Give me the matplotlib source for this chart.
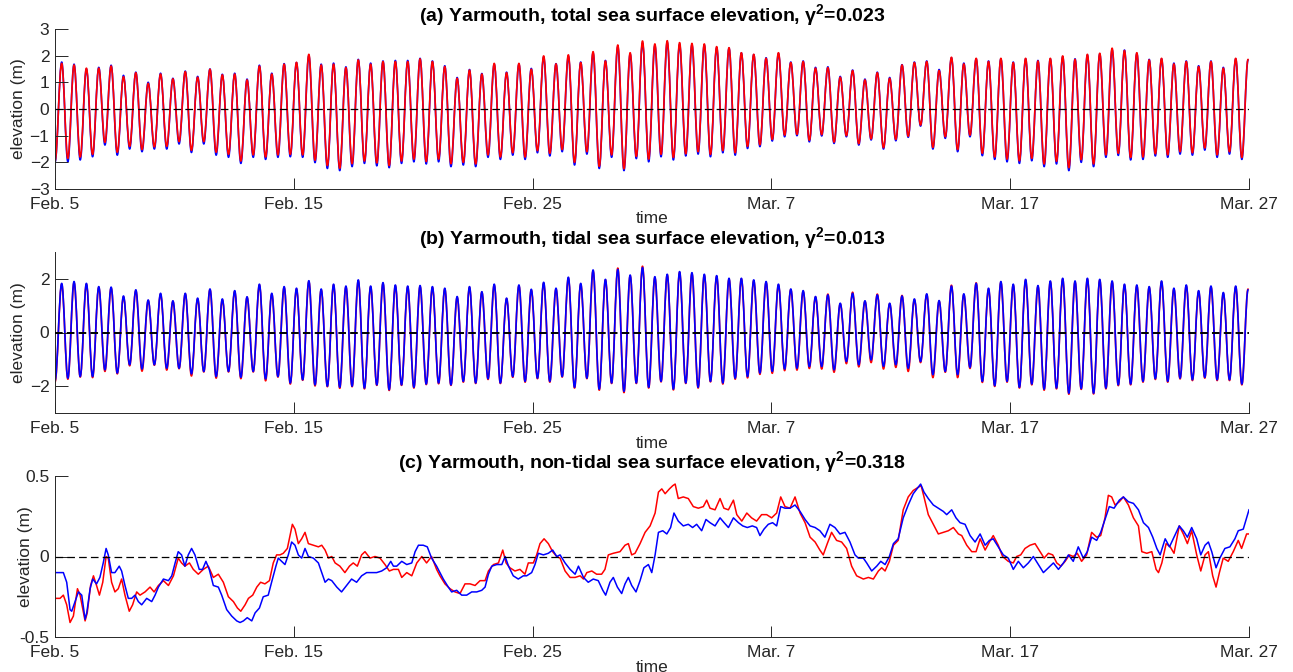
import matplotlib
matplotlib.use("Agg")
import matplotlib.pyplot as plt
from matplotlib.path import Path
from matplotlib.patches import PathPatch

plt.rcParams['font.family'] = ['Liberation Sans', 'DejaVu Sans']
plt.rcParams['mathtext.fontset'] = 'custom'
plt.rcParams['mathtext.rm'] = 'Liberation Sans'
plt.rcParams['mathtext.bf'] = 'Liberation Sans:bold'
plt.rcParams['lines.scale_dashes'] = False

# ---------------- data ----------------
date_ticks = [0, 10, 20, 30, 40, 50]
date_labels = ['Feb. 5', 'Feb. 15', 'Feb. 25', 'Mar. 7', 'Mar. 17', 'Mar. 27']

titles = [r'(a) Yarmouth, total sea surface elevation, γ$^{\mathbf{2}}$=0.023',
          r'(b) Yarmouth, tidal sea surface elevation, γ$^{\mathbf{2}}$=0.013',
          r'(c) Yarmouth, non-tidal sea surface elevation, γ$^{\mathbf{2}}$=0.318']

# tidal sampling of high / low waters (days after Feb. 5)
first_high_day = 0.28
half_tide_days = 0.25875

# (a) total elevation: value at Feb. 5, then successive high and low waters
total_start_blue = -2.00
total_start_red = -1.95
total_high_blue = [1.76, 1.68, 1.50, 1.56, 1.64, 1.26, 1.38, 1.00, 1.34, 1.15, 1.42, 1.22, 1.50, 1.30, 1.34, 1.12,
                   1.64, 1.34, 1.70, 1.74, 2.00, 1.68, 1.72, 1.58, 1.86, 1.72, 1.80, 1.82, 1.82, 1.90, 1.80,
                   1.62, 1.18, 1.48, 1.33, 1.68, 1.38, 1.68, 1.52, 1.95, 1.70, 1.98, 1.76, 2.10, 1.82, 2.34, 2.06,
                   2.48, 2.38, 2.50, 2.42, 2.40, 2.40, 2.30, 2.28, 2.10, 2.04, 1.92, 2.08, 1.76, 1.80, 1.56, 1.58,
                   1.22, 1.46,
                   1.12, 1.38, 1.18, 1.66, 1.76, 1.80, 1.48, 1.92, 1.72, 1.88, 1.80, 1.88, 1.76, 1.88, 1.82, 1.88,
                   1.96, 1.88, 2.02, 2.06, 2.22, 2.21, 2.08, 1.86, 1.88, 1.72, 1.80, 1.62, 1.80, 1.56, 1.88, 1.84]
total_low_blue = [-1.98, -1.91, -1.79, -1.35, -1.73, -1.50, -1.60, -1.50, -1.50, -1.31, -1.63, -1.31, -1.73, -1.81,
                  -2.04, -1.81, -1.89, -1.81, -1.79, -1.81, -2.01, -2.23, -2.31, -2.16, -2.04, -2.13, -2.20, -2.04,
                  -1.98, -2.06, -1.98,
                  -2.16, -2.10, -2.16, -1.81, -1.89, -1.73, -1.89, -1.64, -1.76, -1.60, -2.10, -1.69, -2.23, -1.81,
                  -2.31, -1.86, -1.98, -1.79, -1.91, -1.76, -1.69, -1.79, -1.64, -1.73, -1.48, -1.41, -1.20, -1.04,
                  -1.00, -1.23, -1.01, -1.29, -1.04, -1.35,
                  -1.16, -1.50, -1.19, -1.06, -0.64, -1.50, -1.10, -1.60, -1.04, -1.75, -1.89, -1.98, -2.04, -1.94,
                  -2.16, -2.06, -2.31, -2.00, -2.16, -1.81, -1.74, -1.91, -1.89, -1.76, -1.81, -1.69, -1.73, -1.54,
                  -1.81, -1.69, -1.89]
total_high_red = [1.71, 1.65, 1.53, 1.53, 1.61, 1.21, 1.36, 0.96, 1.31, 1.13, 1.40, 1.19, 1.49, 1.28, 1.31, 1.09,
                  1.61, 1.31, 1.68, 1.75, 2.05, 1.65, 1.68, 1.55, 1.84, 1.68, 1.78, 1.78, 1.78, 1.88, 1.78,
                  1.59, 1.15, 1.46, 1.31, 1.71, 1.36, 1.71, 1.49, 1.99, 1.69, 2.03, 1.74, 2.15, 1.80, 2.40, 2.11,
                  2.55, 2.44, 2.56, 2.49, 2.46, 2.44, 2.34, 2.30, 2.11, 2.05, 1.90, 2.11, 1.74, 1.78, 1.53, 1.55,
                  1.19, 1.44,
                  1.09, 1.36, 1.15, 1.65, 1.74, 1.78, 1.44, 1.94, 1.69, 1.90, 1.78, 1.90, 1.74, 1.90, 1.80, 1.90,
                  1.99, 1.86, 2.05, 2.09, 2.28, 2.19, 2.11, 1.84, 1.90, 1.69, 1.78, 1.59, 1.78, 1.53, 1.90, 1.86]
total_low_red = [-1.85, -1.80, -1.70, -1.25, -1.62, -1.40, -1.52, -1.42, -1.40, -1.22, -1.55, -1.22, -1.62, -1.70,
                 -1.95, -1.72, -1.80, -1.72, -1.70, -1.72, -1.92, -2.12, -2.22, -2.05, -1.95, -2.02, -2.12, -1.95,
                 -1.88, -1.97, -1.88,
                 -2.05, -2.00, -2.06, -1.72, -1.80, -1.64, -1.80, -1.56, -1.66, -1.52, -2.00, -1.60, -2.15, -1.72,
                 -2.24, -1.78, -1.88, -1.70, -1.82, -1.68, -1.60, -1.70, -1.56, -1.64, -1.40, -1.34, -1.14, -0.98,
                 -0.95, -1.17, -0.96, -1.24, -1.00, -1.30,
                 -1.12, -1.45, -1.14, -1.02, -0.60, -1.44, -1.04, -1.52, -0.98, -1.66, -1.80, -1.88, -1.94, -1.85,
                 -2.06, -1.96, -2.20, -1.90, -2.06, -1.72, -1.66, -1.82, -1.80, -1.68, -1.72, -1.60, -1.64, -1.46,
                 -1.72, -1.60, -1.82]

# (b) tidal elevation
tidal_start_blue = -1.80
tidal_start_red = -1.85
tidal_high_blue = [1.83, 1.90, 1.83, 1.71, 1.69, 1.36, 1.59, 1.21, 1.46, 1.18, 1.46, 1.28, 1.62, 1.25, 1.56, 1.33,
                   1.80, 1.46, 1.71, 1.65, 1.93, 1.62, 1.80, 1.73, 1.96, 1.73, 1.86, 1.77, 1.73, 1.75, 1.71,
                   1.65, 1.34, 1.71, 1.52, 1.80, 1.28, 1.77, 1.61, 1.87, 1.65, 2.06, 1.83, 2.33, 1.98, 2.35, 2.14,
                   2.42, 2.08, 2.17, 2.27, 2.23, 2.17, 2.12, 2.02, 2.02, 1.96, 1.90, 1.80, 1.62, 1.56, 1.34, 1.40,
                   1.09, 1.46,
                   1.18, 1.40, 1.09, 1.36, 1.25, 1.44, 1.19, 1.73, 1.44, 1.83, 1.65, 1.90, 1.80, 1.98, 1.75, 1.92,
                   2.02, 1.92, 2.02, 1.98, 1.92, 1.80, 1.77, 1.71, 1.92, 1.65, 1.77, 1.56, 1.73, 1.49, 1.73, 1.59]
tidal_low_blue = [-1.70, -1.64, -1.64, -1.39, -1.51, -1.20, -1.36, -1.20, -1.33, -1.33, -1.54, -1.45, -1.64, -1.45,
                  -1.67, -1.45, -1.73, -1.64, -1.88, -1.76, -1.95, -2.00, -2.04, -2.00, -2.07, -1.95, -2.13, -1.95,
                  -2.04, -1.92, -1.88,
                  -1.95, -1.82, -1.88, -1.72, -1.88, -1.64, -1.82, -1.70, -1.82, -1.64, -2.04, -1.70, -2.11, -1.88,
                  -2.19, -1.88, -2.04, -1.82, -2.11, -1.88, -2.04, -1.82, -1.88, -1.70, -1.64, -1.51, -1.45, -1.36,
                  -1.33, -1.27, -1.27, -1.39, -1.08, -1.20,
                  -1.02, -1.26, -1.20, -1.33, -1.08, -1.57, -1.45, -1.57, -1.30, -1.82, -1.98, -1.82, -2.04, -1.92,
                  -2.11, -2.07, -2.26, -2.09, -2.26, -2.07, -1.95, -1.92, -1.82, -1.72, -1.82, -1.70, -1.76, -1.67,
                  -1.76, -1.76, -1.92]
tidal_high_red = [1.80, 1.86, 1.80, 1.68, 1.66, 1.33, 1.56, 1.19, 1.43, 1.16, 1.44, 1.25, 1.60, 1.22, 1.53, 1.31,
                  1.77, 1.43, 1.68, 1.62, 1.90, 1.59, 1.77, 1.70, 1.93, 1.70, 1.83, 1.74, 1.70, 1.72, 1.68,
                  1.62, 1.31, 1.68, 1.50, 1.77, 1.26, 1.74, 1.58, 1.84, 1.62, 2.03, 1.80, 2.30, 1.96, 2.40, 2.12,
                  2.47, 2.05, 2.15, 2.24, 2.20, 2.14, 2.09, 1.99, 2.00, 1.93, 1.87, 1.77, 1.60, 1.53, 1.32, 1.43,
                  1.07, 1.50,
                  1.16, 1.43, 1.07, 1.38, 1.22, 1.41, 1.17, 1.76, 1.41, 1.85, 1.62, 1.87, 1.77, 1.95, 1.72, 1.89,
                  1.99, 1.89, 1.99, 1.95, 1.89, 1.77, 1.74, 1.68, 1.89, 1.62, 1.74, 1.53, 1.70, 1.46, 1.70, 1.62]
tidal_low_red = [-1.74, -1.66, -1.68, -1.45, -1.54, -1.24, -1.44, -1.22, -1.40, -1.35, -1.62, -1.47, -1.70, -1.47,
                 -1.72, -1.47, -1.80, -1.66, -1.92, -1.78, -1.99, -2.02, -2.08, -2.02, -2.10, -1.97, -2.16, -1.97,
                 -2.07, -1.94, -1.91,
                 -1.97, -1.85, -1.90, -1.75, -1.90, -1.67, -1.85, -1.72, -1.85, -1.66, -2.07, -1.72, -2.15, -1.90,
                 -2.24, -1.90, -2.07, -1.84, -2.14, -1.90, -2.07, -1.84, -1.92, -1.74, -1.69, -1.56, -1.52, -1.42,
                 -1.40, -1.34, -1.36, -1.48, -1.16, -1.28,
                 -1.12, -1.36, -1.30, -1.45, -1.12, -1.68, -1.48, -1.68, -1.34, -1.86, -2.01, -1.85, -2.07, -1.95,
                 -2.15, -2.10, -2.30, -2.12, -2.29, -2.10, -1.98, -1.95, -1.85, -1.75, -1.85, -1.73, -1.79, -1.70,
                 -1.79, -1.79, -1.95]

# (c) non-tidal elevation: (day after Feb. 5, metres)
nontidal_blue = [
    (0.00, -0.10), (0.35, -0.10), (0.49, -0.16), (0.63, -0.33), (0.70, -0.34), (0.84, -0.28), (0.98, -0.22),
    (1.12, -0.24), (1.26, -0.39), (1.33, -0.35), (1.47, -0.20), (1.58, -0.14), (1.74, -0.17), (1.88, -0.13),
    (2.02, -0.04), (2.14, 0.05), (2.23, 0.01), (2.37, -0.10), (2.51, -0.10), (2.69, -0.06), (2.79, -0.09),
    (2.93, -0.18), (3.07, -0.26), (3.21, -0.26), (3.35, -0.24), (3.49, -0.28), (3.63, -0.30), (3.84, -0.26),
    (4.05, -0.28), (4.19, -0.24), (4.33, -0.19), (4.54, -0.14), (4.75, -0.15), (4.89, -0.12), (5.03, -0.04),
    (5.16, 0.03), (5.30, 0.01), (5.44, -0.06), (5.58, 0.01), (5.72, 0.05), (5.86, 0.01), (6.04, -0.08),
    (6.18, -0.08), (6.32, -0.03), (6.46, -0.08), (6.63, -0.18), (6.84, -0.19), (6.98, -0.24), (7.19, -0.33),
    (7.40, -0.37), (7.61, -0.40), (7.75, -0.41), (7.89, -0.40), (8.05, -0.38), (8.24, -0.40), (8.38, -0.35),
    (8.56, -0.32), (8.72, -0.25), (8.93, -0.24), (9.07, -0.16), (9.25, -0.06), (9.35, -0.01), (9.49, -0.03),
    (9.63, -0.05), (9.77, 0.01), (9.91, 0.09), (10.05, 0.07), (10.19, 0.01), (10.33, -0.01), (10.47, 0.05),
    (10.61, 0.00), (10.82, -0.01), (11.03, -0.04), (11.17, -0.10), (11.31, -0.16), (11.45, -0.14),
    (11.59, -0.15), (11.80, -0.19), (12.00, -0.22), (12.21, -0.18), (12.42, -0.14), (12.63, -0.16),
    (12.84, -0.12), (13.05, -0.10), (13.26, -0.10), (13.47, -0.10), (13.68, -0.09), (13.89, -0.07),
    (14.06, -0.03), (14.17, -0.06), (14.31, -0.06), (14.52, -0.03), (14.73, -0.05), (14.94, -0.04),
    (15.08, 0.03), (15.22, 0.07), (15.42, 0.07), (15.59, 0.06), (15.77, -0.01), (15.98, -0.06),
    (16.26, -0.14), (16.47, -0.19), (16.61, -0.22), (16.82, -0.21), (17.03, -0.24), (17.24, -0.24),
    (17.45, -0.22), (17.66, -0.22), (17.87, -0.21), (18.01, -0.19), (18.15, -0.11), (18.29, -0.06),
    (18.50, -0.05), (18.71, -0.05), (18.85, 0.00), (18.99, -0.06), (19.19, -0.12), (19.40, -0.14),
    (19.61, -0.12), (19.75, -0.12), (19.96, -0.10), (20.10, -0.05), (20.24, 0.02), (20.45, 0.01),
    (20.66, 0.02), (20.84, 0.04), (21.01, 0.00), (21.15, 0.01), (21.36, -0.04), (21.57, -0.08),
    (21.78, -0.11), (21.92, -0.06), (22.13, -0.13), (22.33, -0.16), (22.54, -0.14), (22.75, -0.15),
    (22.94, -0.21), (23.06, -0.24), (23.24, -0.16), (23.38, -0.13), (23.55, -0.19), (23.73, -0.23),
    (23.87, -0.17), (24.01, -0.13), (24.15, -0.18), (24.33, -0.22), (24.50, -0.15), (24.66, -0.07),
    (24.85, -0.05), (24.99, -0.10), (25.13, 0.01), (25.27, 0.15), (25.45, 0.16), (25.62, 0.14),
    (25.78, 0.18), (25.92, 0.27), (26.10, 0.22), (26.31, 0.19), (26.52, 0.20), (26.70, 0.18),
    (26.87, 0.20), (27.08, 0.16), (27.26, 0.23), (27.43, 0.21), (27.64, 0.19), (27.85, 0.24),
    (28.02, 0.21), (28.20, 0.18), (28.41, 0.24), (28.62, 0.21), (28.80, 0.19), (28.99, 0.18),
    (29.20, 0.19), (29.38, 0.18), (29.52, 0.13), (29.69, 0.17), (29.87, 0.20), (30.05, 0.21),
    (30.22, 0.19), (30.39, 0.31), (30.57, 0.30), (30.78, 0.30), (30.99, 0.32), (31.20, 0.28),
    (31.41, 0.23), (31.62, 0.19), (31.83, 0.18), (32.03, 0.16), (32.24, 0.12), (32.45, 0.20),
    (32.66, 0.18), (32.87, 0.14), (33.08, 0.15), (33.29, 0.09), (33.50, 0.01), (33.64, -0.01),
    (33.85, -0.01), (33.99, -0.04), (34.20, -0.09), (34.41, -0.06), (34.58, -0.03), (34.76, -0.05),
    (34.94, 0.00), (35.11, 0.08), (35.31, 0.11), (35.52, 0.24), (35.73, 0.32), (35.94, 0.39),
    (36.15, 0.43), (36.25, 0.45), (36.39, 0.40), (36.57, 0.36), (36.78, 0.32), (36.99, 0.30),
    (37.20, 0.28), (37.34, 0.26), (37.55, 0.29), (37.73, 0.24), (37.90, 0.21), (38.11, 0.20),
    (38.32, 0.13), (38.53, 0.09), (38.74, 0.14), (38.95, 0.07), (39.13, 0.10), (39.29, 0.11),
    (39.50, 0.06), (39.71, 0.01), (39.92, -0.01), (40.13, -0.08), (40.34, -0.03), (40.55, -0.07),
    (40.76, -0.04), (40.97, 0.00), (41.18, -0.05), (41.39, -0.10), (41.60, -0.07), (41.81, -0.04),
    (42.02, -0.08), (42.23, -0.04), (42.44, 0.01), (42.64, -0.03), (42.85, 0.06), (43.06, -0.01),
    (43.23, 0.03), (43.41, 0.12), (43.62, 0.10), (43.79, 0.15), (43.97, 0.23), (44.15, 0.31),
    (44.35, 0.30), (44.57, 0.35), (44.74, 0.37), (44.95, 0.34), (45.16, 0.33), (45.37, 0.29),
    (45.58, 0.21), (45.79, 0.18), (45.97, 0.12), (46.14, 0.05), (46.28, 0.01), (46.49, 0.11),
    (46.67, 0.06), (46.86, 0.12), (47.08, 0.19), (47.25, 0.16), (47.42, 0.12), (47.60, 0.18),
    (47.81, 0.11), (47.98, 0.01), (48.16, 0.07), (48.30, 0.09), (48.44, 0.03), (48.62, -0.07),
    (48.78, -0.01), (48.99, 0.05), (49.20, 0.06), (49.41, 0.11), (49.55, 0.16), (49.76, 0.17),
    (49.90, 0.24), (50.00, 0.29)]

nontidal_red = [
    (0.00, -0.26), (0.21, -0.26), (0.35, -0.24), (0.49, -0.30), (0.63, -0.41), (0.77, -0.37), (0.94, -0.20),
    (1.05, -0.24), (1.26, -0.40), (1.35, -0.35), (1.49, -0.18), (1.61, -0.12), (1.74, -0.18), (1.86, -0.24),
    (2.00, -0.16), (2.14, 0.00), (2.23, -0.01), (2.37, -0.16), (2.51, -0.22), (2.65, -0.20), (2.79, -0.14),
    (2.93, -0.24), (3.11, -0.34), (3.25, -0.30), (3.42, -0.22), (3.56, -0.24), (3.77, -0.22), (3.98, -0.19),
    (4.15, -0.22), (4.33, -0.18), (4.54, -0.15), (4.75, -0.18), (4.96, -0.12), (5.16, -0.01), (5.30, -0.04),
    (5.44, -0.06), (5.63, -0.04), (5.79, -0.08), (6.00, -0.11), (6.21, -0.08), (6.42, -0.06), (6.63, -0.13),
    (6.84, -0.11), (7.05, -0.16), (7.26, -0.25), (7.47, -0.28), (7.64, -0.32), (7.78, -0.34), (7.96, -0.30),
    (8.10, -0.26), (8.28, -0.24), (8.45, -0.19), (8.61, -0.16), (8.79, -0.17), (8.98, -0.15), (9.14, -0.04),
    (9.28, 0.01), (9.42, 0.01), (9.56, 0.02), (9.73, 0.05), (9.84, 0.13), (9.94, 0.20), (10.05, 0.17),
    (10.19, 0.08), (10.33, 0.11), (10.47, 0.15), (10.61, 0.08), (10.82, 0.07), (11.03, 0.06), (11.17, 0.07),
    (11.31, 0.04), (11.45, -0.01), (11.59, 0.00), (11.73, -0.04), (11.93, -0.06), (12.14, -0.10),
    (12.33, -0.06), (12.49, -0.04), (12.66, -0.06), (12.84, 0.01), (12.98, 0.03), (13.19, -0.01),
    (13.40, 0.00), (13.61, -0.01), (13.82, -0.05), (14.00, -0.09), (14.17, -0.08), (14.38, -0.08),
    (14.52, -0.13), (14.73, -0.10), (14.94, -0.12), (15.15, -0.04), (15.36, 0.00), (15.56, -0.04),
    (15.77, 0.00), (15.98, -0.08), (16.12, -0.12), (16.33, -0.17), (16.54, -0.20), (16.75, -0.22),
    (16.96, -0.23), (17.17, -0.17), (17.38, -0.17), (17.59, -0.18), (17.80, -0.15), (18.01, -0.15),
    (18.15, -0.09), (18.36, -0.05), (18.57, -0.04), (18.75, 0.04), (18.89, -0.04), (19.05, -0.07),
    (19.26, -0.09), (19.47, -0.08), (19.68, -0.11), (19.82, -0.04), (20.03, -0.04), (20.17, 0.01),
    (20.31, 0.08), (20.48, 0.11), (20.66, 0.08), (20.84, 0.03), (21.01, 0.00), (21.15, -0.01),
    (21.36, -0.09), (21.57, -0.13), (21.78, -0.13), (21.99, -0.12), (22.13, -0.14), (22.27, -0.10),
    (22.48, -0.09), (22.68, -0.11), (22.89, -0.11), (23.03, -0.08), (23.17, 0.01), (23.38, 0.02),
    (23.66, 0.03), (23.87, 0.07), (24.01, 0.08), (24.15, 0.01), (24.29, 0.02), (24.50, 0.08),
    (24.71, 0.15), (24.92, 0.19), (25.13, 0.27), (25.27, 0.40), (25.41, 0.42), (25.55, 0.39),
    (25.73, 0.42), (25.87, 0.44), (25.97, 0.45), (26.10, 0.36), (26.31, 0.37), (26.52, 0.36),
    (26.73, 0.31), (26.94, 0.30), (27.15, 0.31), (27.29, 0.35), (27.43, 0.30), (27.64, 0.29),
    (27.85, 0.36), (28.01, 0.30), (28.20, 0.29), (28.41, 0.35), (28.55, 0.26), (28.76, 0.22),
    (28.97, 0.27), (29.17, 0.24), (29.38, 0.22), (29.59, 0.26), (29.80, 0.26), (30.01, 0.24),
    (30.22, 0.27), (30.39, 0.37), (30.57, 0.31), (30.78, 0.30), (30.99, 0.37), (31.20, 0.27),
    (31.41, 0.21), (31.62, 0.12), (31.83, 0.09), (32.03, 0.04), (32.17, 0.01), (32.34, 0.08),
    (32.52, 0.15), (32.73, 0.10), (32.94, 0.09), (33.15, 0.05), (33.36, -0.06), (33.57, -0.12),
    (33.85, -0.14), (34.06, -0.13), (34.27, -0.14), (34.48, -0.09), (34.62, -0.07), (34.76, -0.09),
    (34.94, -0.03), (35.11, 0.07), (35.31, 0.10), (35.52, 0.29), (35.73, 0.37), (35.94, 0.41),
    (36.15, 0.43), (36.27, 0.44), (36.39, 0.37), (36.57, 0.26), (36.78, 0.20), (36.99, 0.14),
    (37.20, 0.15), (37.41, 0.16), (37.62, 0.18), (37.83, 0.14), (37.97, 0.13), (38.18, 0.07),
    (38.39, 0.03), (38.57, 0.03), (38.74, 0.11), (38.95, 0.04), (39.13, 0.09), (39.29, 0.13),
    (39.50, 0.07), (39.68, 0.00), (39.92, -0.03), (40.13, -0.04), (40.27, 0.00), (40.44, 0.01),
    (40.62, 0.05), (40.83, 0.07), (41.04, 0.08), (41.25, 0.03), (41.42, -0.01), (41.60, 0.02),
    (41.78, 0.01), (41.95, -0.04), (42.12, -0.06), (42.30, -0.03), (42.48, 0.01), (42.64, 0.00),
    (42.81, 0.02), (42.99, -0.03), (43.20, 0.01), (43.41, 0.15), (43.62, 0.12), (43.79, 0.13),
    (43.97, 0.24), (44.11, 0.38), (44.25, 0.37), (44.39, 0.32), (44.57, 0.34), (44.74, 0.37),
    (44.95, 0.32), (45.16, 0.24), (45.37, 0.19), (45.51, 0.03), (45.72, 0.02), (45.93, 0.03),
    (46.11, -0.08), (46.21, -0.10), (46.35, -0.04), (46.53, 0.08), (46.70, 0.06), (46.86, 0.02),
    (47.08, 0.19), (47.25, 0.14), (47.42, 0.08), (47.60, 0.16), (47.81, 0.01), (47.98, -0.09),
    (48.16, 0.01), (48.30, 0.03), (48.48, -0.12), (48.62, -0.19), (48.76, -0.10), (48.92, -0.01),
    (49.13, -0.03), (49.34, 0.03), (49.55, 0.10), (49.69, 0.05), (49.90, 0.14), (50.00, 0.14)]


def tide_series(start, highs, lows):
    times, vals = [0.0], [start]
    for k, h in enumerate(highs):
        times.append(first_high_day + 2 * k * half_tide_days)
        vals.append(h)
        if k < len(lows):
            times.append(first_high_day + (2 * k + 1) * half_tide_days)
            vals.append(lows[k])
    return times, vals


def tide_curve(ax, times, vals, color, lw):
    # smooth (cubic Bezier) curve through successive high / low waters,
    # horizontal tangent at every turning point
    verts = [(times[0], vals[0])]
    codes = [Path.MOVETO]
    for i in range(1, len(times)):
        t0, v0 = times[i - 1], vals[i - 1]
        t1, v1 = times[i], vals[i]
        d = (t1 - t0) * 0.3634
        verts += [(t0 + d, v0), (t1 - d, v1), (t1, v1)]
        codes += [Path.CURVE4] * 3
    ax.add_patch(PathPatch(Path(verts, codes), fill=False, edgecolor=color, lw=lw,
                           capstyle='round', joinstyle='round'))


AX_COLOR = '#262626'

fig = plt.figure(figsize=(12.93, 6.72), dpi=100)
left, width = 55 / 1293, 1194 / 1293
ax_a = fig.add_axes([left, 1 - 189 / 672, width, 160 / 672])
ax_b = fig.add_axes([left, 1 - 413 / 672, width, 161 / 672])
ax_c = fig.add_axes([left, 1 - 637 / 672, width, 161 / 672])

# (a)
tide_curve(ax_a, *tide_series(total_start_blue, total_high_blue, total_low_blue), 'blue', 1.2)
tide_curve(ax_a, *tide_series(total_start_red, total_high_red, total_low_red), 'red', 1.2)
ax_a.axhline(0, color='black', lw=0.9, dashes=(5.5, 3), zorder=5)

# (b)
tide_curve(ax_b, *tide_series(tidal_start_red, tidal_high_red, tidal_low_red), 'red', 1.2)
tide_curve(ax_b, *tide_series(tidal_start_blue, tidal_high_blue, tidal_low_blue), 'blue', 1.2)
ax_b.axhline(0, color='black', lw=1.4, dashes=(5.5, 3), zorder=5)

# (c)
t_r, v_r = zip(*nontidal_red)
t_b, v_b = zip(*nontidal_blue)
ax_c.plot(t_r, v_r, color='red', lw=1.1)
ax_c.plot(t_b, v_b, color='blue', lw=1.1)
ax_c.axhline(0, color='black', lw=0.9, dashes=(5.5, 3), zorder=5)

ax_a.set_ylim(-3, 3)
ax_a.set_yticks([-3, -2, -1, 0, 1, 2, 3])
ax_b.set_ylim(-3, 3)
ax_b.set_yticks([-2, 0, 2])
ax_c.set_ylim(-0.5, 0.5)
ax_c.set_yticks([-0.5, 0, 0.5])
ax_c.set_yticklabels(['-0.5', '0', '0.5'])

ylabel_x = [-0.0243, -0.0243, -0.0184]
for ax, title, yx in zip([ax_a, ax_b, ax_c], titles, ylabel_x):
    ax.set_xlim(0, 50)
    ax.set_xticks(date_ticks)
    ax.set_xticklabels(date_labels)
    for s in ['top', 'right']:
        ax.spines[s].set_visible(False)
    for s in ['left', 'bottom']:
        ax.spines[s].set_color(AX_COLOR)
        ax.spines[s].set_linewidth(0.7)
    ax.tick_params(axis='x', direction='in', length=8, width=0.7, color=AX_COLOR,
                   labelsize=12.5, labelcolor=AX_COLOR, pad=6)
    ax.tick_params(axis='y', direction='in', length=9.5, width=0.7, color=AX_COLOR,
                   labelsize=12.5, labelcolor=AX_COLOR, pad=4)
    ax.set_title(title, fontsize=14, fontweight='bold', pad=1.5, color='black')
    ax.set_xlabel('time', fontsize=12.5, color=AX_COLOR)
    ax.xaxis.set_label_coords(0.5, -0.14)
    ax.set_ylabel('elevation (m)', fontsize=12.5, color=AX_COLOR)
    ax.yaxis.set_label_coords(yx, 0.5)

fig.savefig('out.png', dpi=100, facecolor='white')
